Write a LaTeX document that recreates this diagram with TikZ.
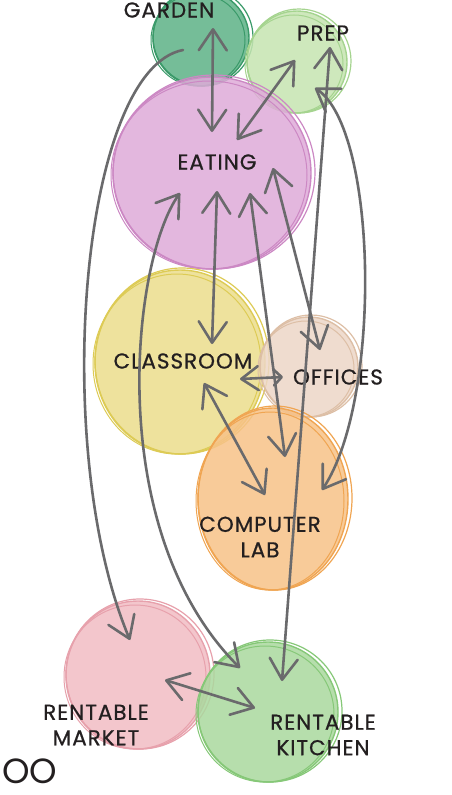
\documentclass[tikz,border=0pt]{standalone}
\usepackage{fontspec}
\setmainfont{Poppins}
\newfontfamily\lblfont[LetterSpace=4.5,FakeBold=0.7]{Poppins}
\usetikzlibrary{arrows.meta,shapes.geometric}
\definecolor{arr}{HTML}{6A6A6C}
\definecolor{txt}{HTML}{231F20}
\definecolor{gardenF}{HTML}{5DB287}\definecolor{gardenL}{HTML}{3A9A69}
\definecolor{prepF}{HTML}{C6E5B1}\definecolor{prepL}{HTML}{A5D48F}
\definecolor{eatF}{HTML}{DFABD9}\definecolor{eatL}{HTML}{CC88C4}
\definecolor{classF}{HTML}{ECDD8C}\definecolor{classL}{HTML}{DDCB55}
\definecolor{offF}{HTML}{EDD7C7}\definecolor{offL}{HTML}{DDBFA6}
\definecolor{labF}{HTML}{F7C288}\definecolor{labL}{HTML}{F0A552}
\definecolor{mktF}{HTML}{F2BDC4}\definecolor{mktL}{HTML}{E7A1AC}
\definecolor{kitF}{HTML}{AAD99E}\definecolor{kitL}{HTML}{86C878}
\newcommand\blob[7]{%
  \node[ellipse, fill=#6, fill opacity=0.85, draw=#7, line width=1.4pt,
        minimum width={2*#4pt}, minimum height={2*#5pt}, inner sep=0pt] (#1) at (#2,#3) {};
  \draw[#7, line width=1.2pt] (#2+2,#3-1) ellipse [x radius=#4+2, y radius=#5+1];
  \draw[#7, line width=1pt] (#2-3,#3+2) ellipse [x radius=#4-1, y radius=#5-2];
}
\tikzset{
  link/.style={arr, line width=2.6pt, line cap=round,
    {Straight Barb[length=21pt,width=28pt,line width=2.6pt,round]}-{Straight Barb[length=21pt,width=28pt,line width=2.6pt,round]}},
  linkone/.style={arr, line width=2.6pt, line cap=round,
    -{Straight Barb[length=21pt,width=28pt,line width=2.6pt,round]}},
  linkshort/.style={arr, line width=2.6pt, line cap=round,
    {Straight Barb[length=17pt,width=24pt,line width=2.6pt,round]}-{Straight Barb[length=8pt,width=16pt,line width=2.6pt,round]}},
  lbl/.style={text=txt, font=\lblfont\fontsize{21.5}{25.5}\selectfont, align=center, inner sep=0pt}
}
\begin{document}
\begin{tikzpicture}[x=1pt,y=-1pt]
\useasboundingbox[fill=white] (0,0) rectangle (451,795);
\blob{garden}{201}{38}{48}{48}{gardenF}{gardenL}
\blob{prep}{297}{62}{50}{51}{prepF}{prepL}
\blob{eating}{212}{173}{99}{96}{eatF}{eatL}
\blob{classroom}{180}{362}{85}{92}{classF}{classL}
\blob{offices}{309}{367}{49}{50}{offF}{offL}
\blob{lab}{273}{499}{75}{91}{labF}{labL}
\blob{market}{138}{675}{72}{74}{mktF}{mktL}
\blob{kitchen}{268}{712}{70}{70}{kitF}{kitL}

\node[lbl] (tgarden) at (169,10) {GARDEN};
\node[lbl] (tprep) at (323,33) {PREP};
\node[lbl] (teating) at (217,162) {EATING};
\node[lbl] (tclass) at (183,361) {CLASSROOM};
\node[lbl] (toff) at (338,377) {OFFICES};
\node[lbl] (tlab) at (260,537) {COMPUTER\\LAB};
\node[lbl] (tmkt) at (96,725) {RENTABLE\\MARKET};
\node[lbl] (tkit) at (323,735) {RENTABLE\\KITCHEN};
\node[text=txt, font=\fontsize{35}{35}\selectfont, anchor=base west, inner sep=0pt] (too) at (2,783) {OO};

% connector end points
\coordinate (gE) at (213,28);  \coordinate (eG) at (212,132);
\coordinate (pE) at (295,60);  \coordinate (eP) at (237,140);
\coordinate (gM) at (183,50);  \coordinate (mG) at (130,640);
\coordinate (eK) at (180,193); \coordinate (kE) at (240,668);
\coordinate (eC) at (217,191); \coordinate (cE) at (212,344);
\coordinate (eL) at (250,193); \coordinate (lE) at (285,457);
\coordinate (eO) at (273,168); \coordinate (oE) at (320,350);
\coordinate (pK) at (330,47);  \coordinate (kP) at (282,681);
\coordinate (pL) at (315,88);  \coordinate (lP) at (322,490);
\coordinate (cO) at (240,379); \coordinate (oC) at (283,377);
\coordinate (cL) at (204,383); \coordinate (lC) at (265,495);
\coordinate (mK) at (165,680); \coordinate (kM) at (255,708);

\draw[link] (gE) -- (eG);
\draw[link] (pE) -- (eP);
\draw[linkone] (gM) .. controls (80,70) and (50,450) .. (mG);
\draw[link] (eK) .. controls (132,260) and (102,530) .. (kE);
\draw[link] (eC) -- (cE);
\draw[link] (eL) -- (lE);
\draw[link] (eO) -- (oE);
\draw[link] (pK) -- (kP);
\draw[link] (pL) .. controls (378,130) and (382,400) .. (lP);
\draw[linkshort] (cO) -- (oC);
\draw[link] (cL) -- (lC);
\draw[link] (mK) -- (kM);
\end{tikzpicture}
\end{document}
